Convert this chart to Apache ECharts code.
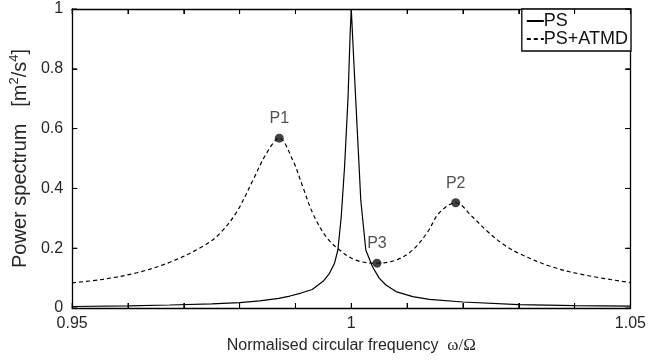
<!DOCTYPE html>
<html>
<head>
<meta charset="utf-8">
<script src="https://cdn.jsdelivr.net/npm/echarts@6/dist/echarts.min.js"></script>
<style>html,body{margin:0;padding:0;background:#fff}#c{width:649px;height:361px}</style>
</head>
<body>
<div id="c"></div>
<script>
// PS (structure alone)
const psX = [0.95, 0.96, 0.9675, 0.975, 0.98, 0.9836, 0.987, 0.989, 0.991, 0.993, 0.995, 0.9961, 0.997, 0.9976, 0.9982, 0.9988, 0.9994, 0.9998, 1.0, 1.0005, 1.0011, 1.0017, 1.0026, 1.0038, 1.005, 1.0062, 1.008, 1.011, 1.014, 1.02, 1.03, 1.04, 1.05];
const psY = [0.005, 0.007, 0.010, 0.014, 0.018, 0.024, 0.032, 0.040, 0.050, 0.062, 0.090, 0.116, 0.150, 0.194, 0.305, 0.473, 0.696, 0.918, 1.0, 0.807, 0.584, 0.361, 0.194, 0.138, 0.100, 0.077, 0.055, 0.038, 0.029, 0.020, 0.011, 0.008, 0.006];
// PS + ATMD
const atmdX = [0.95, 0.9555, 0.9616, 0.9675, 0.9735, 0.9765, 0.9795, 0.9824, 0.9848, 0.9871, 0.9895, 0.9913, 0.9931, 0.9955, 0.9979, 1.0008, 1.0046, 1.008, 1.011, 1.0137, 1.0157, 1.0187, 1.0217, 1.0241, 1.027, 1.03, 1.0359, 1.0419, 1.05];
const atmdY = [0.084, 0.096, 0.118, 0.153, 0.207, 0.250, 0.322, 0.428, 0.517, 0.568, 0.495, 0.406, 0.317, 0.238, 0.194, 0.160, 0.150, 0.160, 0.194, 0.255, 0.317, 0.352, 0.305, 0.261, 0.216, 0.183, 0.138, 0.110, 0.085];
// Marked points
const ptNames = ['P1', 'P2', 'P3'];
const ptX = [0.9871, 1.0187, 1.0046];
const ptY = [0.568, 0.352, 0.150];
// Tick positions and labels
const xTicks = [0.95, 0.96, 0.97, 0.98, 0.99, 1.0, 1.01, 1.02, 1.03, 1.04, 1.05];
const xLabels = {95: '0.95', 100: '1', 105: '1.05'};
const yTicks = [0, 0.2, 0.4, 0.6, 0.8, 1];
const X_MIN = 0.95, X_MAX = 1.05, Y_MIN = 0, Y_MAX = 1;

const FONT = 'Liberation Sans, Arial, sans-serif';
const TXT = '#262626';
const TL = 5;
const chart = echarts.init(document.getElementById('c'), null, {renderer: 'canvas'});
const zip = (a, b) => a.map((v, i) => [v, b[i]]);
const line = () => ({show: true, onZero: false, lineStyle: {color: '#000', width: 1.3}});
const tickStyle = {stroke: '#000', lineWidth: 1};
// tick length expressed in axis units (5 px of a 559 x 299 px plot)
const dX = TL / 559 * (X_MAX - X_MIN), dY = TL / 299 * (Y_MAX - Y_MIN);
const tickLines = [].concat(
  xTicks.map(v => [{coord: [v, Y_MIN]}, {coord: [v, Y_MIN + dY]}]),
  xTicks.map(v => [{coord: [v, Y_MAX]}, {coord: [v, Y_MAX - dY]}]),
  yTicks.map(v => [{coord: [X_MIN, v]}, {coord: [X_MIN + dX, v]}]),
  yTicks.map(v => [{coord: [X_MAX, v]}, {coord: [X_MAX - dX, v]}])
);

chart.setOption({
  animation: false,
  backgroundColor: '#fff',
  textStyle: {fontFamily: FONT},
  grid: {left: 72, right: 18, top: 9, bottom: 53},
  legend: {
    right: 18, top: 9, orient: 'vertical',
    backgroundColor: '#fff', borderColor: '#000', borderWidth: 1.3,
    padding: [3, 3, 3, 4], itemGap: 0, itemWidth: 17, itemHeight: 19,
    itemStyle: {color: 'rgba(0,0,0,0)', borderColor: 'rgba(0,0,0,0)', borderWidth: 0},
    textStyle: {fontSize: 18, color: '#111', fontFamily: FONT, padding: [0, 0, 0, -5]},
    data: ['PS', 'PS+ATMD']
  },
  xAxis: [{
    type: 'value', min: X_MIN, max: X_MAX, interval: 0.01,
    axisLine: line(), axisTick: {show: true, inside: true, length: TL, lineStyle: {color: '#000'}},
    splitLine: {show: false},
    axisLabel: {
      margin: 8, fontSize: 16, color: TXT, fontFamily: FONT,
      formatter: v => xLabels[Math.round(v * 100)] || ''
    },
    name: '{t|Normalised circular frequency  }{w|ω/Ω}',
    nameLocation: 'middle', nameGap: 27,
    nameTextStyle: {
      rich: {
        t: {fontSize: 16, color: TXT, fontFamily: FONT},
        w: {fontSize: 17, color: TXT, fontFamily: 'Liberation Serif, Times New Roman, serif'}
      }
    }
  }, {
    type: 'value', min: X_MIN, max: X_MAX, interval: 0.01, position: 'top',
    axisLine: line(), axisTick: {show: true, inside: true, length: TL, lineStyle: {color: '#000'}},
    axisLabel: {show: false}, splitLine: {show: false}
  }],
  yAxis: [{
    type: 'value', min: Y_MIN, max: Y_MAX, interval: 0.2,
    axisLine: line(), axisTick: {show: true, inside: true, length: TL, lineStyle: {color: '#000'}},
    splitLine: {show: false},
    axisLabel: {
      margin: 9, fontSize: 16, color: TXT, fontFamily: FONT,
      formatter: v => String(Math.round(v * 10) / 10)
    },
    name: '{t|Power spectrum   [m}{s|2}{t|/s}{s|4}{t|]}',
    nameLocation: 'middle', nameGap: 37, nameRotate: 90,
    nameTextStyle: {
      rich: {
        t: {fontSize: 20, color: TXT, fontFamily: FONT, lineHeight: 22, verticalAlign: 'bottom'},
        s: {fontSize: 13, color: TXT, fontFamily: FONT, lineHeight: 22, verticalAlign: 'top'}
      }
    }
  }, {
    type: 'value', min: Y_MIN, max: Y_MAX, interval: 0.2, position: 'right',
    axisLine: line(), axisTick: {show: true, inside: true, length: TL, lineStyle: {color: '#000'}},
    axisLabel: {show: false}, splitLine: {show: false}
  }],
  series: [{
    name: 'PS', type: 'line', data: zip(psX, psY),
    showSymbol: false, symbol: 'none',
    lineStyle: {color: '#000', width: 1.2, type: 'solid'},
    itemStyle: {color: '#000'}, smooth: false, z: 3,
    markLine: {
      silent: true, symbol: 'none', animation: false, precision: 6,
      label: {show: false}, emphasis: {disabled: true},
      lineStyle: {color: '#000', width: 1, type: 'solid'},
      data: tickLines
    }
  }, {
    name: 'PS+ATMD', type: 'line', data: zip(atmdX, atmdY),
    showSymbol: false, symbol: 'none', smooth: 0.35,
    lineStyle: {color: '#000', width: 1.2, type: [4, 3]},
    itemStyle: {color: '#000'}, z: 3
  }, {
    name: 'points', type: 'scatter',
    data: ptX.map((x, i) => ({name: ptNames[i], value: [x, ptY[i]]})),
    symbol: 'circle', symbolSize: 9,
    itemStyle: {color: '#111'},
    label: {show: true, position: 'top', distance: 7, formatter: p => p.name, fontSize: 16, color: TXT, fontFamily: FONT},
    z: 5
  }, {
    // inward x-axis ticks (bottom and top frame)
    name: 'xticks', type: 'custom', silent: true, z: 4, clip: false,
    data: xTicks.map(v => [v, Y_MIN]),
    renderItem: (params, api) => {
      const b = api.coord([api.value(0), Y_MIN]);
      const t = api.coord([api.value(0), Y_MAX]);
      return {type: 'group', children: [
        {type: 'line', shape: {x1: b[0], y1: b[1], x2: b[0], y2: b[1] - TL}, style: tickStyle},
        {type: 'line', shape: {x1: t[0], y1: t[1], x2: t[0], y2: t[1] + TL}, style: tickStyle}
      ]};
    }
  }, {
    // inward y-axis ticks (left and right frame)
    name: 'yticks', type: 'custom', silent: true, z: 4, clip: false,
    data: yTicks.map(v => [X_MIN, v]),
    renderItem: (params, api) => {
      const l = api.coord([X_MIN, api.value(1)]);
      const r = api.coord([X_MAX, api.value(1)]);
      return {type: 'group', children: [
        {type: 'line', shape: {x1: l[0], y1: l[1], x2: l[0] + TL, y2: l[1]}, style: tickStyle},
        {type: 'line', shape: {x1: r[0], y1: r[1], x2: r[0] - TL, y2: r[1]}, style: tickStyle}
      ]};
    }
  }]
});
</script>
</body>
</html>
